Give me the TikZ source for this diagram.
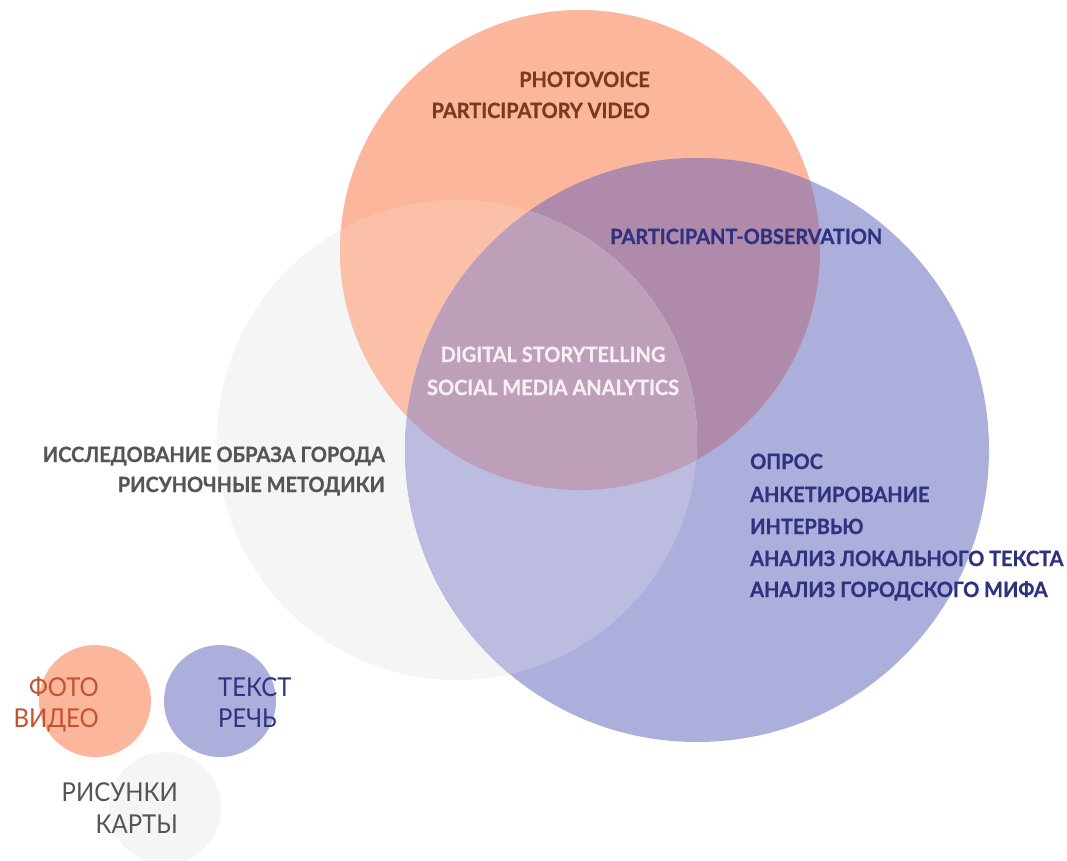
\documentclass[tikz,border=0pt]{standalone}
\usepackage{fontspec}
\setmainfont{Lato}
\newfontfamily\labelfont{Lato}[FakeStretch=0.95, BoldFeatures={FakeBold=0.8}]
\newfontfamily\legendfont{Lato}[FakeStretch=0.92]

\definecolor{corange}{HTML}{FBB69B}
\definecolor{cblue}{HTML}{ACAEDB}
\definecolor{cgrey}{HTML}{F5F5F5}
\definecolor{cog}{HTML}{FCC0A9}
\definecolor{cob}{HTML}{B08AAB}
\definecolor{cbg}{HTML}{BBBCE0}
\definecolor{cobg}{HTML}{BE9FBA}
\definecolor{tbrown}{HTML}{7A3A20}
\definecolor{tnavy}{HTML}{2E3280}
\definecolor{tgrey}{HTML}{555555}
\definecolor{tlight}{HTML}{F6F0F4}
\definecolor{torange}{HTML}{C4532C}

\newcommand{\greyset}{(457,440) circle[radius=240]}
\newcommand{\orangeset}{(580,250) circle[radius=240]}
\newcommand{\blueset}{(697,450) circle[radius=292]}

\tikzset{
  biglabel/.style={inner sep=0pt, font=\labelfont\fontsize{21}{21}\selectfont\bfseries},
  smalllabel/.style={inner sep=0pt, font=\legendfont\fontsize{26}{26}\selectfont},
}

\begin{document}
\begin{tikzpicture}[x=1pt,y=-1pt]
\useasboundingbox (0,0) rectangle (1067,860);
\clip (0,0) rectangle (1067,860);
\fill[white] (0,0) rectangle (1067,860);

% the three main sets
\fill[cgrey] \greyset;
\fill[corange] \orangeset;
\fill[cblue] \blueset;
% overlaps
\begin{scope}
  \clip \orangeset;
  \fill[cob] \blueset;
\end{scope}
\begin{scope}
  \clip \greyset;
  \fill[cog] \orangeset;
\end{scope}
\begin{scope}
  \clip \greyset;
  \fill[cbg] \blueset;
\end{scope}
\begin{scope}
  \clip \greyset;
  \clip \orangeset;
  \fill[cobg] \blueset;
\end{scope}

% small legend circles
\fill[corange] (95,701) circle[radius=56];
\fill[cblue] (220,701) circle[radius=56];
\fill[cgrey] (165,808) circle[radius=56];

% labels of the main sets
\node[biglabel, text=tbrown, anchor=base east] (pv) at (650,87) {PHOTOVOICE};
\node[biglabel, text=tbrown, anchor=base east] (pvid) at (650,118) {PARTICIPATORY VIDEO};
\node[biglabel, text=tnavy, anchor=base west] (po) at (610,244) {PARTICIPANT-OBSERVATION};
\node[biglabel, text=tlight, anchor=base] (ds) at (553,362) {DIGITAL STORYTELLING};
\node[biglabel, text=tlight, anchor=base] (sma) at (553,395) {SOCIAL MEDIA ANALYTICS};
\node[biglabel, text=tgrey, anchor=base east] (iog) at (385,462) {ИССЛЕДОВАНИЕ ОБРАЗА ГОРОДА};
\node[biglabel, text=tgrey, anchor=base east] (rm) at (385,492) {РИСУНОЧНЫЕ МЕТОДИКИ};
\node[biglabel, text=tnavy, anchor=base west] (b1) at (750,469) {ОПРОС};
\node[biglabel, text=tnavy, anchor=base west] (b2) at (750,502) {АНКЕТИРОВАНИЕ};
\node[biglabel, text=tnavy, anchor=base west] (b3) at (750,534) {ИНТЕРВЬЮ};
\node[biglabel, text=tnavy, anchor=base west] (b4) at (750,566) {АНАЛИЗ ЛОКАЛЬНОГО ТЕКСТА};
\node[biglabel, text=tnavy, anchor=base west] (b5) at (750,597) {АНАЛИЗ ГОРОДСКОГО МИФА};

% legend labels
\node[smalllabel, text=torange, anchor=base east] (foto) at (99,696) {ФОТО};
\node[smalllabel, text=torange, anchor=base east] (video) at (99,727) {ВИДЕО};
\node[smalllabel, text=tnavy, anchor=base west] (tekst) at (218,696) {ТЕКСТ};
\node[smalllabel, text=tnavy, anchor=base west] (rech) at (218,727) {РЕЧЬ};
\node[smalllabel, text=tgrey, anchor=base east] (ris) at (178,801) {РИСУНКИ};
\node[smalllabel, text=tgrey, anchor=base east] (karty) at (178,833) {КАРТЫ};
\end{tikzpicture}
\end{document}
